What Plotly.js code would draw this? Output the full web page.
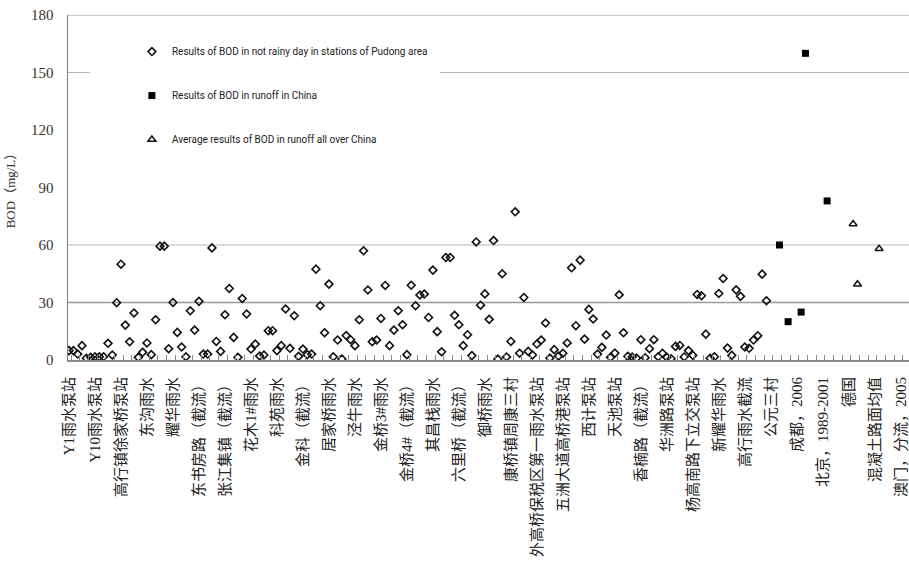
<!DOCTYPE html>
<html>
<head>
<meta charset="utf-8">
<script src="https://cdn.plot.ly/plotly-3.0.1.min.js"></script>
<style>
  html, body { margin: 0; padding: 0; background: #fff; }
  #chart { width: 909px; height: 565px; }
</style>
</head>
<body>
<div id="chart"></div>
<script>
// BOD (mg/L) measured on non-rainy days at Pudong stations, in sampling order
const stationValues = [
  4.9, 4.9, 3.1, 7.5, 0.9, 1.4, 1.7, 1.7, 1.7, 8.7,
  2.6, 29.9, 50, 18.2, 9.5, 24.5, 1.4, 4, 8.9, 2.8,
  21, 59.4, 59.4, 5.9, 30, 14.4, 6.8, 1.7, 25.7, 15.6,
  30.6, 3.1, 3.1, 58.5, 9.7, 4.5, 23.6, 37.3, 11.8, 1.4,
  32.1, 24, 5.7, 8.3, 2.1, 2.6, 15.3, 15.3, 4.9, 7.5,
  26.6, 6.1, 23.1, 1.9, 5.7, 2.8, 3.1, 47.4, 28.3, 14.2,
  39.6, 1.7, 10.4, 0.5, 12.8, 10.6, 7.5, 21, 57, 36.5,
  9.5, 10.4, 21.7, 38.9, 7.5, 15.6, 25.7, 18.4, 2.8, 39,
  28.3, 33.9, 34.4, 22.2, 46.9, 14.8, 4.3, 53.5, 53.5, 23.3,
  18.4, 7.5, 13.2, 2.3, 61.6, 28.6, 34.5, 21.2, 62.3, 0.5,
  45, 1.6, 9.7, 77.3, 3.5, 32.6, 4.5, 2.6, 8.3, 10.4,
  19.3, 1, 5.4, 2.1, 3.5, 8.9, 48.1, 17.9, 52.1, 10.9,
  26.4, 21.4, 3.1, 6.6, 13, 1.4, 3.6, 34, 14.2, 1.9,
  1.6, 1, 10.6, 1.2, 5.9, 10.6, 1.7, 3.5, 1.4, 0.7,
  7.1, 7.6, 1.6, 4.9, 2.4, 34.2, 33.5, 13.5, 0.9, 1.7,
  34.7, 42.5, 6.2, 2.4, 36.6, 33.2, 6.8, 6.1, 10.4, 12.7,
  44.8, 30.9
];

// Runoff BOD reported for Chinese cities (category slot, value)
const chinaRunoffSlots  = [165, 167, 170, 171, 176];
const chinaRunoffValues = [60, 20, 25, 160, 83];

// Average runoff BOD all over China and abroad (category slot, value)
const averageSlots  = [182, 183, 188];
const averageValues = [71, 39.5, 58];

// Category labels along the x axis, one every sixth slot
const categoryLabels = [
  "Y1雨水泵站", "Y10雨水泵站", "高行镇徐家桥泵站", "东沟雨水", "耀华雨水",
  "东书房路（截流）", "张江集镇（截流）", "花木1#雨水", "科苑雨水", "金科（截流）",
  "居家桥雨水", "泾牛雨水", "金桥3#雨水", "金桥4#（截流）", "其昌栈雨水",
  "六里桥（截流）", "御桥雨水", "康桥镇周康三村", "外高桥保税区第一雨水泵站", "五洲大道高桥港泵站",
  "西计泵站", "天池泵站", "香楠路（截流）", "华洲路泵站", "杨高南路下立交泵站",
  "新耀华雨水", "高行雨水截流", "公元三村", "成都，2006", "北京，1989-2001",
  "德国", "混凝土路面均值", "澳门，分流，2005"
];
const labelStep = 6;

const yTicks = [0, 30, 60, 90, 120, 150, 180];
const gridValues = [30, 60, 150, 180];

const stationSlots = stationValues.map((_, i) => i + 1);
const labelSlots = categoryLabels.map((_, k) => 1 + labelStep * k);

const traces = [
  {
    type: 'scatter', mode: 'markers',
    name: 'Results of BOD in not rainy day in stations of Pudong area',
    legendgroup: 'a',
    x: stationSlots, y: stationValues,
    marker: { symbol: 'diamond-open', size: 6, color: '#111', line: { width: 1.6, color: '#111' } }
  },
  {
    type: 'scatter', mode: 'markers',
    name: 'Results of BOD in runoff in China',
    legendgroup: 'b',
    x: chinaRunoffSlots, y: chinaRunoffValues,
    marker: { symbol: 'square', size: 7, color: '#000' }
  },
  {
    type: 'scatter', mode: 'markers',
    name: 'Average results of BOD in runoff all over China',
    legendgroup: 'c',
    x: averageSlots, y: averageValues,
    marker: { symbol: 'triangle-up-open', size: 7, color: '#111', line: { width: 1.5, color: '#111' } }
  }
];

const shapes = gridValues.map(v => ({
  type: 'line', xref: 'paper', yref: 'y', x0: 0, x1: 1, y0: v, y1: v,
  layer: 'below',
  line: { color: v === 30 ? '#9a9a9a' : '#b8b8b8', width: v === 30 || v === 180 ? 1.5 : 1.2 }
}));
// white panel behind the legend
shapes.push({
  type: 'rect', xref: 'paper', yref: 'y', x0: 0.026, x1: 0.442, y0: 95, y1: 172,
  layer: 'below', fillcolor: '#fff', line: { width: 0 }
});

const layout = {
  width: 909, height: 565,
  margin: { l: 68, r: 0, t: 15, b: 205 },
  paper_bgcolor: '#fff', plot_bgcolor: '#fff',
  showlegend: true,
  legend: {
    x: 0.076, y: 0.936, xanchor: 'left', yanchor: 'top',
    bgcolor: 'rgba(255,255,255,0)',
    tracegroupgap: 25,
    font: { family: 'Roboto, "Liberation Sans", sans-serif', size: 10, color: '#222' }
  },
  xaxis: {
    range: [0.77, 194.9],
    showgrid: false, zeroline: false,
    showline: true, linecolor: '#8a8a8a', linewidth: 2,
    tickmode: 'array', tickvals: labelSlots, ticktext: categoryLabels,
    ticks: '', tickangle: -90, ticklabelstandoff: 9,
    tickfont: { family: '"Liberation Serif", "Noto Sans CJK SC", serif', size: 15, color: '#222' },
    minor: { tickmode: 'linear', tick0: 1.5, dtick: 2, ticks: 'inside', ticklen: 5, tickwidth: 1, tickcolor: '#888', showgrid: false }
  },
  yaxis: {
    range: [0, 180],
    tickmode: 'array', tickvals: yTicks,
    showgrid: false, zeroline: false,
    showline: true, linecolor: '#7a7a7a', linewidth: 1.5,
    ticks: '', ticklabelstandoff: 10,
    tickfont: { family: '"Liberation Serif", serif', size: 15, color: '#333' },
    title: { text: 'BOD（mg/L）', standoff: 12,
      font: { family: '"Liberation Serif", "Noto Sans CJK SC", serif', size: 13, color: '#333' } }
  },
  shapes: shapes
};

Plotly.newPlot('chart', traces, layout, { displayModeBar: false, staticPlot: true });
</script>
</body>
</html>
